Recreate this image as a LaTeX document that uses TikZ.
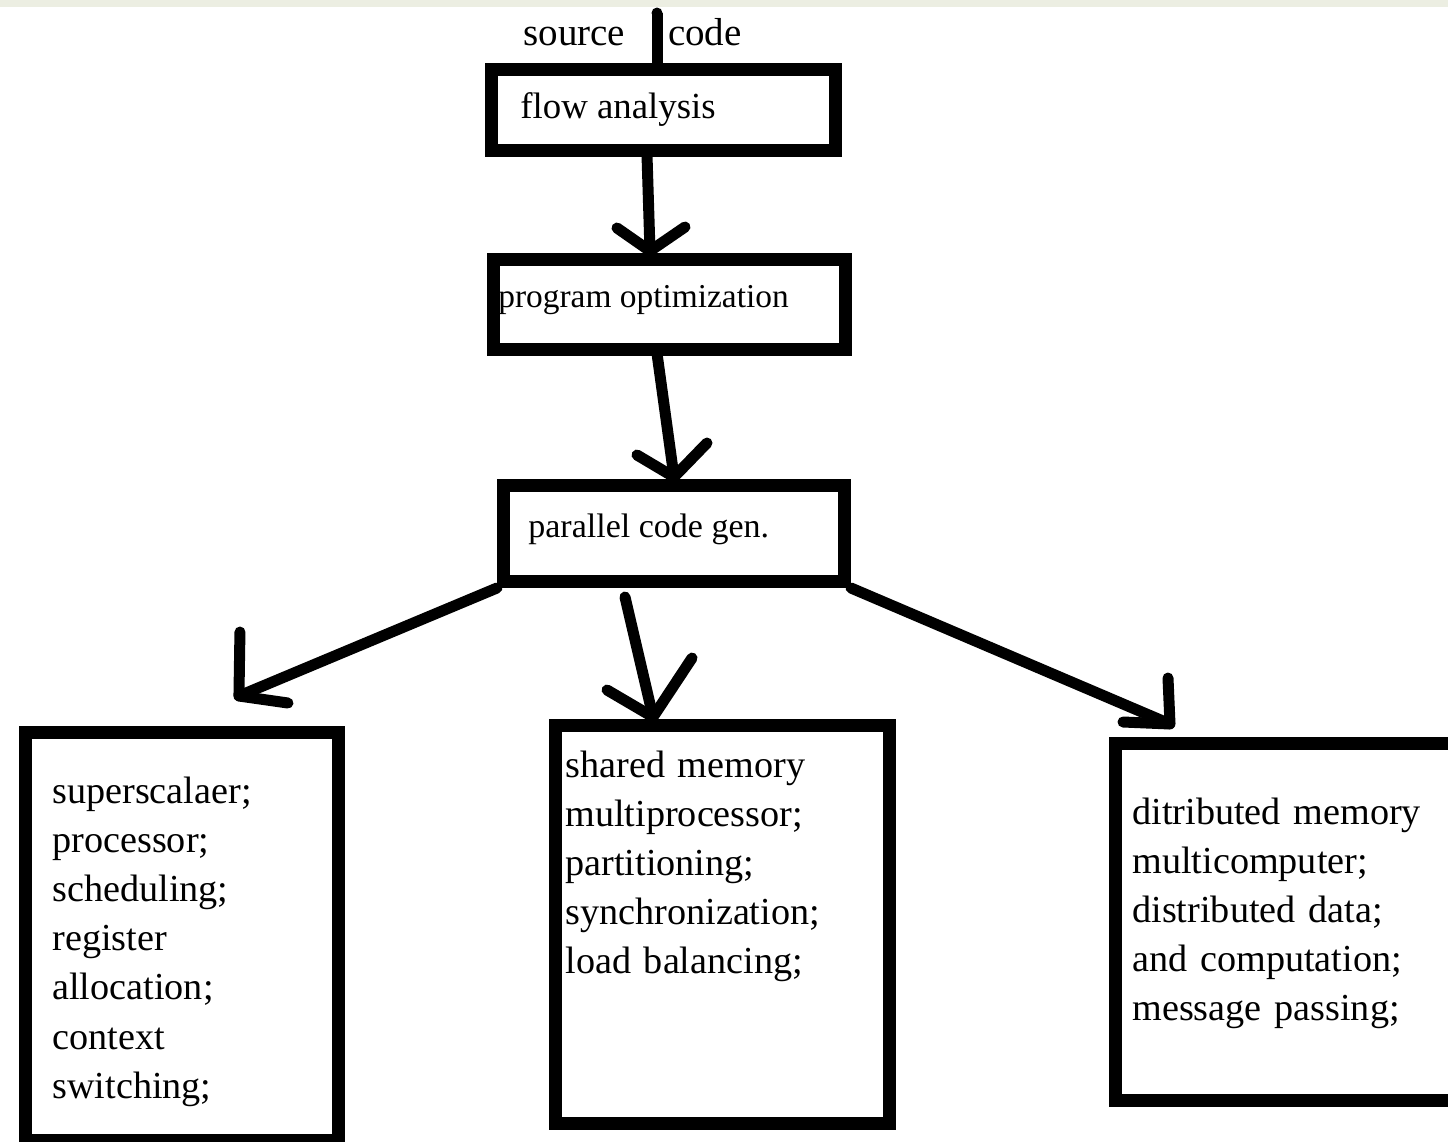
\documentclass[tikz,border=0pt]{standalone}
\usepackage{fontspec}
\setmainfont{Liberation Serif}
\definecolor{topband}{RGB}{236,238,226}
\begin{document}
\begin{tikzpicture}[x=0.5pt,y=-0.5pt,
  stagebox/.style={draw=black, line width=6.5pt, inner sep=0pt},
  wire/.style={line width=5.5pt, line cap=round, line join=round},
  txt/.style={inner sep=0pt, anchor=base west},
  itemtxt/.style={txt, text width=170pt, align=left,
    font=\fontsize{19.1pt}{24.6pt}\selectfont}]
\useasboundingbox (0,0) rectangle (1448,1142);
\clip (0,0) rectangle (1448,1142);
\fill[white] (0,0) rectangle (1448,1142);
\fill[topband] (0,0) rectangle (1448,7);

% stage boxes
\node[stagebox, minimum width=172pt, minimum height=40.5pt] (flow) at (663.5,110) {};
\node[stagebox, minimum width=176pt, minimum height=44.75pt] (prog) at (669.5,304.25) {};
\node[stagebox, minimum width=170.5pt, minimum height=48pt] (par) at (674,533.5) {};
\node[stagebox, minimum width=156.75pt, minimum height=203.75pt] (sup) at (181.75,936.25) {};
\node[stagebox, minimum width=167.25pt, minimum height=199.25pt] (shm) at (722.25,924.25) {};
\node[stagebox, minimum width=172.5pt, minimum height=178.25pt] (dist) at (1287.5,921.75) {};

% labels
\node[txt, font=\fontsize{19.5pt}{24pt}\selectfont] (src) at (523,45) {source\hspace{21.5pt}code};
\node[txt, font=\fontsize{18.4pt}{22pt}\selectfont] (flowtxt) at (520,118) {flow analysis};
\node[txt, font=\fontsize{16.7pt}{20pt}\selectfont] (progtxt) at (498,307) {program optimization};
\node[txt, font=\fontsize{17pt}{20pt}\selectfont] (partxt) at (528,537) {parallel code gen.};

\node[itemtxt] (suptxt) at (52,803) {superscalaer;\\processor;\\scheduling;\\register\\allocation;\\context\\switching;};
\node[itemtxt] (shmtxt) at (565,777) {shared memory\\multiprocessor;\\partitioning;\\synchronization;\\load balancing;};
\node[itemtxt] (disttxt) at (1132,824) {ditributed memory\\multicomputer;\\distributed data;\\and computation;\\message passing;};

% input line
\coordinate (in) at (657,13);
\draw[wire, line cap=butt] (in) -- ([xshift=-3.25pt,yshift=-3pt]flow.north);
\fill (in) circle (2.75pt);

% flow analysis -> program optimization
\coordinate (t1) at ([xshift=-9.75pt,yshift=1pt]prog.north);
\draw[wire] ([xshift=-8.25pt,yshift=1pt]flow.south) -- (t1);
\draw[wire] (t1) ++(-33,-23) -- (t1) -- ++(35,-24);

% program optimization -> parallel code gen.
\coordinate (t2) at ([yshift=1pt]par.north);
\draw[wire] ([xshift=-6.25pt,yshift=1pt]prog.south) -- (t2);
\draw[wire] (t2) ++(-37,-22) -- (t2) -- ++(33,-34);

% parallel code gen. -> the three targets
\coordinate (t3) at ([xshift=28.6pt,yshift=15pt]sup.north);
\draw[wire] (par.south west) -- (t3);
\draw[wire] (t3) ++(1,-64) -- (t3) -- ++(49,7);

\coordinate (t4) at ([xshift=-34.6pt,yshift=0.75pt]shm.north);
\draw[wire] ([xshift=-24.5pt,yshift=-4.5pt]par.south) -- (t4);
\draw[wire] (t4) ++(-46,-27) -- (t4) -- ++(39,-59);

\coordinate (t5) at ([xshift=30.75pt,yshift=6.5pt]dist.north west);
\draw[wire] (par.south east) -- (t5);
\draw[wire] (t5) ++(-2,-46) -- (t5) -- ++(-47,-2);
\end{tikzpicture}
\end{document}
